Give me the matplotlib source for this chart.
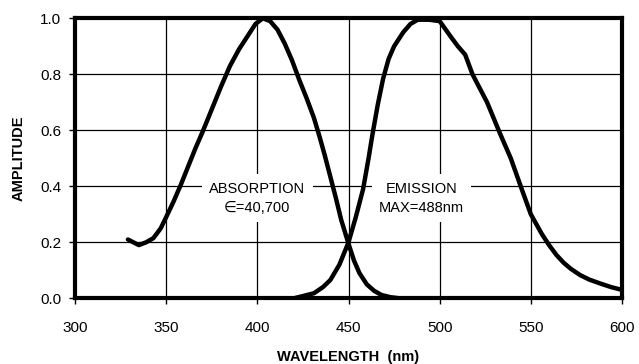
import matplotlib
matplotlib.use("Agg")
import matplotlib.pyplot as plt

plt.rcParams['font.family'] = ['Liberation Sans', 'DejaVu Sans']

# Absorption spectrum (wavelength nm, amplitude)
abs_wl = [329, 332, 335, 339, 343, 347, 350, 354, 358, 362, 366, 370, 375, 380,
          385, 390, 395, 399, 403, 407, 411, 415, 419, 423, 427, 431, 434, 437,
          440, 443, 446, 450, 453, 456, 460, 464, 468, 473, 478, 480]
abs_amp = [0.21, 0.20, 0.19, 0.20, 0.215, 0.25, 0.29, 0.345, 0.405, 0.47, 0.535,
           0.595, 0.675, 0.755, 0.83, 0.89, 0.94, 0.98, 1.00, 0.99, 0.96, 0.91,
           0.85, 0.78, 0.715, 0.645, 0.58, 0.51, 0.435, 0.36, 0.28, 0.195, 0.135,
           0.09, 0.05, 0.027, 0.012, 0.004, 0.0, 0.0]

# Emission spectrum
em_wl = [420, 425, 431, 436, 440, 445, 450, 454, 458, 461, 463, 466, 469, 472,
         475, 480, 484, 488, 494, 500, 506, 510, 514, 518, 522, 526, 533, 539,
         545, 550, 553, 556, 560, 564, 568, 572, 577, 582, 588, 594, 600]
em_amp = [0.0, 0.008, 0.018, 0.04, 0.065, 0.12, 0.20, 0.29, 0.39, 0.50, 0.58,
          0.69, 0.785, 0.855, 0.90, 0.95, 0.98, 0.995, 0.995, 0.99, 0.935, 0.90,
          0.87, 0.80, 0.75, 0.70, 0.59, 0.50, 0.39, 0.30, 0.265, 0.23, 0.19,
          0.155, 0.127, 0.105, 0.083, 0.067, 0.053, 0.04, 0.03]

x_ticks = [300, 350, 400, 450, 500, 550, 600]
y_ticks = [0.0, 0.2, 0.4, 0.6, 0.8, 1.0]
y_tick_labels = ["0.0", "0.2", "0.4", "0.6", "0.8", "1.0"]

labels = [("ABSORPTION\n\u2208=40,700", 400, 0.358),
          ("EMISSION\nMAX=488nm", 490, 0.358)]

fig = plt.figure(figsize=(6.39, 3.64), dpi=100)
ax = fig.add_axes([0.1174, 0.1805, 0.8560, 0.7692])

ax.set_xlim(300, 600)
ax.set_ylim(0, 1.0)
ax.set_xticks(x_ticks)
ax.set_yticks(y_ticks)
ax.set_yticklabels(y_tick_labels)

ax.grid(True, color='black', linewidth=0.9, zorder=1)
ax.set_axisbelow(True)

for txt, x, y in labels:
    ax.text(x, y, txt, ha='center', va='center', fontsize=10.5,
            linespacing=1.45, zorder=3,
            bbox=dict(boxstyle='square,pad=0.5', facecolor='white',
                      edgecolor='none'))

ax.plot(abs_wl, abs_amp, color='black', linewidth=3.2, zorder=4,
        solid_capstyle='round', solid_joinstyle='round')
ax.plot(em_wl, em_amp, color='black', linewidth=3.2, zorder=4,
        solid_capstyle='round', solid_joinstyle='round')

for s in ax.spines.values():
    s.set_linewidth(3)
    s.set_zorder(5)

ax.tick_params(axis='both', direction='out', length=4, width=1,
               labelsize=11, color='black')
ax.tick_params(axis='x', pad=12)
ax.tick_params(axis='y', pad=6)

ax.set_xlabel("WAVELENGTH  (nm)", fontsize=10.5, fontweight='bold', labelpad=11)
ax.set_ylabel("AMPLITUDE", fontsize=10.5, fontweight='bold', labelpad=10)

fig.savefig("out.png", dpi=100)
